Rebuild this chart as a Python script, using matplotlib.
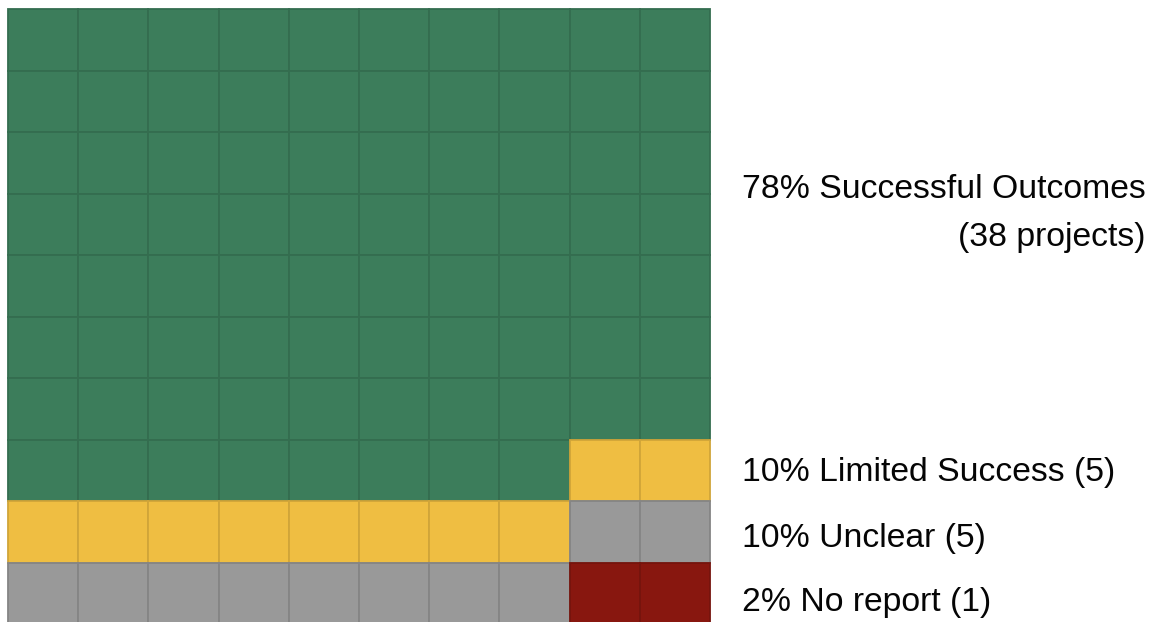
import matplotlib
matplotlib.use("Agg")
import matplotlib.pyplot as plt
from matplotlib.patches import Rectangle
from matplotlib.colors import to_rgb

# Outcome categories, share of cells (out of 100) and project counts
categories = ["Successful Outcomes", "Limited Success", "Unclear", "No report"]
cells = [78, 10, 10, 2]
projects = [38, 5, 5, 1]
colors = ["#3c7d5b", "#efbe42", "#999999", "#88170f"]

n_cols, n_rows = 10, 10

W, H, DPI = 1154, 622, 100
fig = plt.figure(figsize=(W / DPI, H / DPI), dpi=DPI)
fig.patch.set_facecolor("white")

# grid area in pixels
gx0, gx1 = 8, 710
gy0, gy1 = 9, 624
ax = fig.add_axes([gx0 / W, 1 - gy1 / H, (gx1 - gx0) / W, (gy1 - gy0) / H])
ax.set_xlim(0, n_cols)
ax.set_ylim(n_rows, 0)
ax.axis("off")


def darker(c, f=0.87):
    r, g, b = to_rgb(c)
    return (r * f, g * f, b * f)


idx = 0
for cat_i, n in enumerate(cells):
    for _ in range(n):
        row, col = divmod(idx, n_cols)
        ax.add_patch(Rectangle((col, row), 1, 1, facecolor=colors[cat_i],
                               edgecolor=darker(colors[cat_i]), linewidth=1.3,
                               clip_on=False))
        idx += 1

font = dict(family=["Liberation Sans", "DejaVu Sans"], fontsize=24.3, color="#050505")


def px(x, y):
    return x / W, 1 - y / H


fig.text(*px(1146, 189), f"{cells[0]}% {categories[0]}", ha="right", va="center", **font)
fig.text(*px(1146, 237), f"({projects[0]} projects)", ha="right", va="center", **font)

label_y = [473, 538, 602]
for i, y in zip(range(1, 4), label_y):
    fig.text(*px(742, y), f"{cells[i]}% {categories[i]} ({projects[i]})",
             ha="left", va="center", **font)

fig.savefig("out.png", dpi=DPI)
